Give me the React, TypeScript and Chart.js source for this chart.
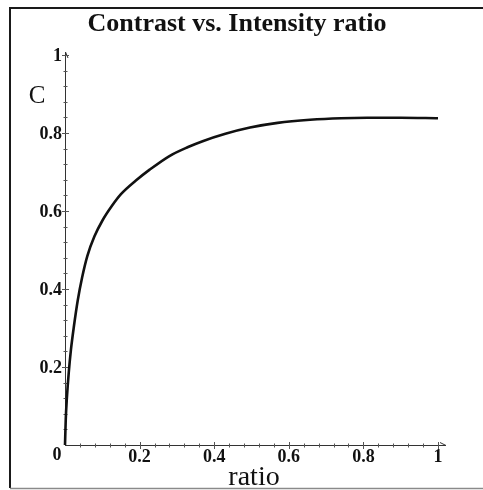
import React, { useEffect, useRef } from "react";
import { Chart, registerables } from "chart.js";

Chart.register(...registerables);

// Intensity ratio (x) and the resulting contrast C (y)
const ratio = [0, 0.002, 0.005, 0.01, 0.016, 0.024, 0.034, 0.046, 0.06, 0.079, 0.1, 0.125, 0.15, 0.19, 0.227, 0.28, 0.33, 0.369, 0.43, 0.496, 0.57, 0.657, 0.74, 0.81, 0.9, 1.0];
const contrast = [0, 0.065, 0.12, 0.185, 0.245, 0.305, 0.37, 0.43, 0.485, 0.535, 0.575, 0.612, 0.643, 0.678, 0.706, 0.741, 0.764, 0.779, 0.798, 0.814, 0.826, 0.834, 0.838, 0.839, 0.839, 0.838];

// Axis tick marks
const xMajorTicks = [0.2, 0.4, 0.6, 0.8, 1];
const xTickLabels = ["0.2", "0.4", "0.6", "0.8", "1"];
const yMajorTicks = [0.2, 0.4, 0.6, 0.8, 1];
const yTickLabels = ["0.2", "0.4", "0.6", "0.8", "1"];
const minorStep = 0.04;

const titleText = "Contrast vs. Intensity ratio";
const xAxisLabel = "ratio";
const yAxisLabel = "C";
const originLabel = "0";

const SERIF = "'Liberation Serif', 'Times New Roman', serif";

const framePlugin = {
  id: "mapleFrame",
  beforeDatasetsDraw(chart: any) {
    const ctx = chart.ctx as CanvasRenderingContext2D;
    const xs = chart.scales.x;
    const ys = chart.scales.y;
    const x0 = xs.getPixelForValue(0);
    const y0 = ys.getPixelForValue(0);
    const xEnd = xs.getPixelForValue(1) + 8;
    const yEnd = ys.getPixelForValue(1) - 3;
    ctx.save();

    // outer frame
    ctx.strokeStyle = "#1a1a1a";
    ctx.lineWidth = 2;
    ctx.beginPath();
    ctx.moveTo(483, 8);
    ctx.lineTo(10, 8);
    ctx.lineTo(10, 488);
    ctx.stroke();
    ctx.strokeStyle = "#8a8a8a";
    ctx.lineWidth = 1.5;
    ctx.beginPath();
    ctx.moveTo(10, 488.5);
    ctx.lineTo(483, 488.5);
    ctx.stroke();

    // axes
    ctx.strokeStyle = "#333";
    ctx.lineWidth = 1;
    ctx.beginPath();
    ctx.moveTo(x0, y0 + 0.5);
    ctx.lineTo(xEnd, y0 + 0.5);
    ctx.moveTo(x0 + 0.5, y0);
    ctx.lineTo(x0 + 0.5, yEnd);
    ctx.stroke();
    // arrow heads
    ctx.beginPath();
    ctx.moveTo(xEnd - 6, y0 - 2.5);
    ctx.lineTo(xEnd, y0 + 0.5);
    ctx.moveTo(x0 + 3, yEnd + 6);
    ctx.lineTo(x0 + 0.5, yEnd);
    ctx.stroke();

    // ticks (major and minor)
    ctx.strokeStyle = "#555";
    for (let i = 1; i <= 25; i++) {
      const v = i * minorStep;
      const major = i % 5 === 0;
      const len = major ? 3.5 : 2;
      const px = Math.round(xs.getPixelForValue(v)) + 0.5;
      const py = Math.round(ys.getPixelForValue(v)) + 0.5;
      ctx.beginPath();
      ctx.moveTo(px, y0 + 0.5 - len);
      ctx.lineTo(px, y0 + 0.5 + len);
      ctx.moveTo(x0 + 0.5 - len, py);
      ctx.lineTo(x0 + 0.5 + len, py);
      ctx.stroke();
    }

    // tick labels
    ctx.fillStyle = "#111";
    ctx.font = `bold 18px ${SERIF}`;
    ctx.textAlign = "center";
    ctx.textBaseline = "middle";
    xMajorTicks.forEach((v, i) => {
      ctx.fillText(xTickLabels[i], xs.getPixelForValue(v), y0 + 12);
    });
    ctx.fillText(originLabel, x0 - 8, y0 + 10);
    ctx.textAlign = "right";
    yMajorTicks.forEach((v, i) => {
      ctx.fillText(yTickLabels[i], x0 - 3, ys.getPixelForValue(v) + 1);
    });

    // title and axis names
    ctx.textBaseline = "alphabetic";
    ctx.textAlign = "center";
    ctx.font = `bold 26px ${SERIF}`;
    ctx.fillText(titleText, 237, 31);
    ctx.font = `28px ${SERIF}`;
    ctx.fillText(xAxisLabel, 254, 485);
    ctx.font = `25px ${SERIF}`;
    ctx.fillText(yAxisLabel, 37, 103);
    ctx.restore();
  },
};

export default function App() {
  const canvasRef = useRef<HTMLCanvasElement | null>(null);

  useEffect(() => {
    document.body.style.margin = "0";
    const canvas = canvasRef.current;
    if (!canvas) return;
    const chart = new Chart(canvas, {
      type: "scatter",
      data: {
        datasets: [
          {
            data: ratio.map((r, i) => ({ x: r, y: contrast[i] })),
            showLine: true,
            borderColor: "#111",
            borderWidth: 2.6,
            pointRadius: 0,
            cubicInterpolationMode: "monotone",
            clip: false,
          } as any,
        ],
      },
      options: {
        animation: false,
        responsive: false,
        devicePixelRatio: 1,
        layout: { padding: { left: 65, right: 45, top: 55, bottom: 45 } },
        plugins: { legend: { display: false }, tooltip: { enabled: false }, title: { display: false } },
        scales: {
          x: { type: "linear", min: 0, max: 1, display: false },
          y: { type: "linear", min: 0, max: 1, display: false },
        },
      },
      plugins: [framePlugin],
    });
    return () => chart.destroy();
  }, []);

  return (
    <div style={{ width: 483, height: 490, background: "#fff" }}>
      <canvas ref={canvasRef} width={483} height={490} style={{ display: "block" }} />
    </div>
  );
}
